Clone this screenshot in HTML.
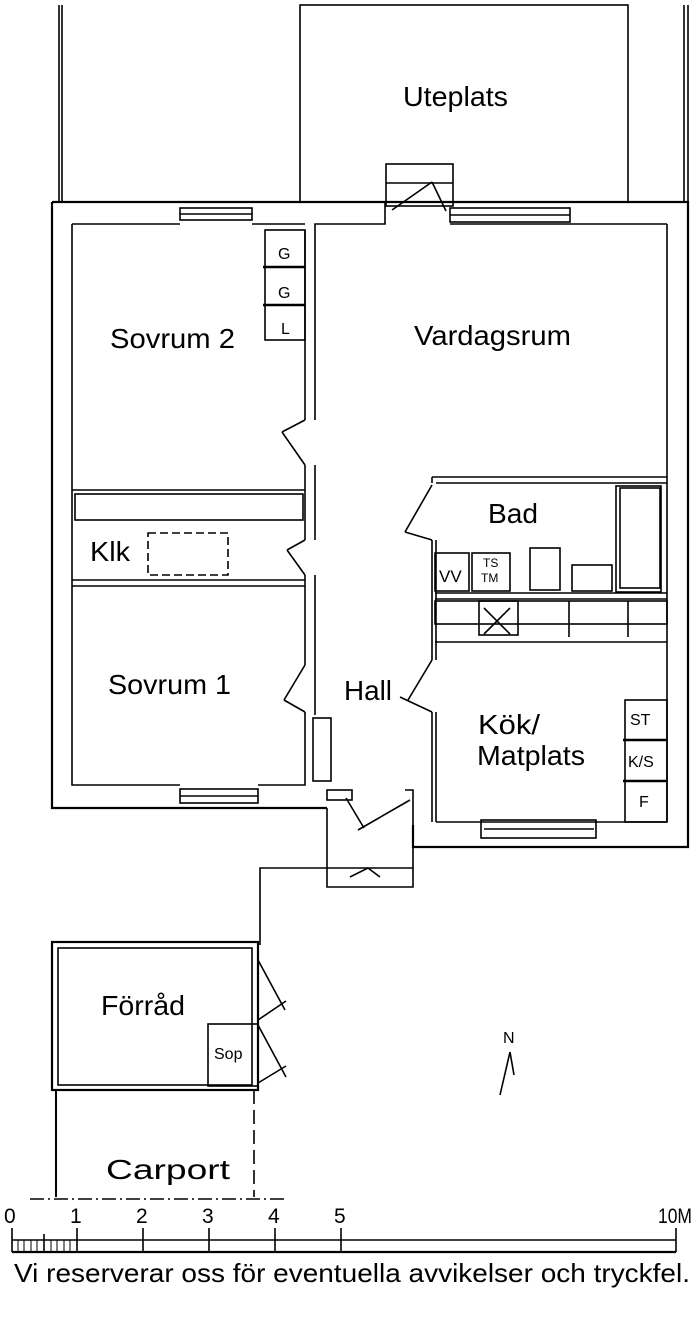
<!DOCTYPE html>
<html><head><meta charset="utf-8"><style>
html,body{margin:0;padding:0;background:#fff;}
svg{display:block;}
text{font-family:"Liberation Sans",sans-serif;fill:#000;}
</style></head><body>
<svg width="700" height="1319" viewBox="0 0 700 1319" xmlns="http://www.w3.org/2000/svg">
<g stroke="#000" fill="none" stroke-width="1.6">
<rect x="300" y="5" width="328" height="197"/>
<line x1="59" y1="5" x2="59" y2="202"/><line x1="62" y1="5" x2="62" y2="202"/>
<line x1="684" y1="5" x2="684" y2="202"/><line x1="688" y1="5" x2="688" y2="202"/>
<rect x="386" y="164" width="67" height="42"/><line x1="386" y1="183" x2="453" y2="183"/>
<line x1="392" y1="210" x2="432" y2="182"/><line x1="432" y1="182" x2="446" y2="211"/>
<polyline stroke-width="2.2" points="52,202 52,808 327,808"/>
<polyline stroke-width="2.2" points="52,202 688,202 688,847 413,847 413,825"/>
<polyline points="72,224 72,785 180,785"/>
<polyline points="258,785 305,785 305,712"/>
<line x1="72" y1="224" x2="180" y2="224"/>
<line x1="252" y1="224" x2="305" y2="224"/>
<polyline points="315,420 315,224 385,224 385,202"/>
<line x1="450" y1="224" x2="667" y2="224"/>
<line x1="667" y1="224" x2="667" y2="822"/>
<rect x="180" y="208" width="72" height="12"/><line x1="180" y1="214" x2="252" y2="214"/>
<rect x="450" y="208" width="120" height="14"/><line x1="450" y1="215" x2="570" y2="215"/>
<rect x="180" y="789" width="78" height="14"/><line x1="180" y1="796" x2="258" y2="796"/>
<rect x="481" y="820" width="115" height="18"/><line x1="484" y1="829" x2="594" y2="829"/>
<rect x="265" y="230" width="40" height="110"/>
<line x1="263" y1="267" x2="305" y2="267" stroke-width="2.5"/>
<line x1="263" y1="305" x2="305" y2="305" stroke-width="2.5"/>
<line x1="305" y1="230" x2="305" y2="420"/>
<line x1="305" y1="465" x2="305" y2="540"/><line x1="315" y1="465" x2="315" y2="540"/>
<line x1="305" y1="575" x2="305" y2="665"/><line x1="315" y1="575" x2="315" y2="665"/>
<line x1="72" y1="490" x2="305" y2="490"/><line x1="72" y1="580" x2="305" y2="580"/>
<line x1="72" y1="586" x2="305" y2="586"/>
<rect x="75" y="494" width="228" height="26"/>
<rect x="148" y="533" width="80" height="42" stroke-dasharray="8,4"/>
<line x1="305" y1="420" x2="282" y2="432"/><line x1="282" y1="432" x2="305" y2="465"/>
<line x1="305" y1="540" x2="287" y2="550"/><line x1="287" y1="550" x2="305" y2="575"/>
<line x1="305" y1="665" x2="284" y2="700"/><line x1="284" y1="700" x2="305" y2="712"/>
<line x1="315" y1="665" x2="315" y2="715"/>
<rect x="313" y="718" width="18" height="63"/>
<line x1="432" y1="477" x2="667" y2="477"/><line x1="436" y1="483" x2="667" y2="483"/>
<line x1="432" y1="477" x2="432" y2="483"/>
<line x1="432" y1="540" x2="432" y2="660"/><line x1="436" y1="540" x2="436" y2="660"/>
<line x1="432" y1="485" x2="405" y2="532"/><line x1="405" y1="532" x2="432" y2="540"/>
<rect x="616" y="486" width="45" height="106"/><rect x="620" y="488" width="40" height="100"/>
<rect x="435" y="553" width="34" height="38"/><rect x="472" y="553" width="38" height="38"/>
<rect x="530" y="548" width="30" height="42"/><rect x="572" y="565" width="40" height="26"/>
<line x1="435" y1="593" x2="667" y2="593"/><line x1="435" y1="599" x2="667" y2="599"/>
<rect x="435" y="601" width="232" height="23"/>
<line x1="435" y1="642" x2="667" y2="642"/>
<rect x="479" y="601" width="39" height="34"/>
<line x1="484" y1="608" x2="510" y2="634"/><line x1="510" y1="608" x2="484" y2="634"/>
<line x1="569" y1="601" x2="569" y2="637"/><line x1="628" y1="601" x2="628" y2="637"/>
<line x1="432" y1="660" x2="408" y2="700"/><line x1="400" y1="697" x2="432" y2="712"/>
<line x1="432" y1="712" x2="432" y2="822"/><line x1="436" y1="712" x2="436" y2="822"/>
<line x1="436" y1="822" x2="667" y2="822"/>
<rect x="625" y="700" width="42" height="122"/>
<line x1="623" y1="740" x2="667" y2="740" stroke-width="2.5"/>
<line x1="623" y1="781" x2="667" y2="781" stroke-width="2.5"/>
<polyline points="327,808 327,887 413,887 413,790 405,790"/>
<rect x="327" y="790" width="25" height="10"/>
<line x1="346" y1="798" x2="364" y2="828"/><line x1="358" y1="830" x2="410" y2="800"/>
<line x1="327" y1="868" x2="413" y2="868"/>
<line x1="350" y1="877" x2="368" y2="868"/><line x1="368" y1="868" x2="380" y2="877"/>
<polyline points="327,868 260,868 260,945"/>
<rect x="52" y="942" width="206" height="148" stroke-width="2.2"/>
<rect x="58" y="948" width="194" height="137"/>
<rect x="208" y="1024" width="50" height="62"/>
<line x1="258" y1="960" x2="285" y2="1010"/><line x1="258" y1="1020" x2="286" y2="1001"/>
<line x1="258" y1="1025" x2="286" y2="1077"/><line x1="258" y1="1083" x2="286" y2="1066"/>
<line x1="56" y1="1090" x2="56" y2="1197" stroke-width="2"/>
<line x1="254" y1="1090" x2="254" y2="1197" stroke-dasharray="14,6"/>
<line x1="30" y1="1199" x2="285" y2="1199" stroke-dasharray="14,4,2,4"/>
<line x1="510" y1="1052" x2="500" y2="1095"/><line x1="510" y1="1052" x2="514" y2="1075"/>
<line x1="12" y1="1252" x2="676" y2="1252" stroke-width="2.2"/>
<line x1="12" y1="1240" x2="676" y2="1240"/>
<line x1="12" y1="1228" x2="12" y2="1252"/><line x1="77" y1="1228" x2="77" y2="1252"/>
<line x1="143" y1="1228" x2="143" y2="1252"/><line x1="209" y1="1228" x2="209" y2="1252"/>
<line x1="275" y1="1228" x2="275" y2="1252"/><line x1="341" y1="1228" x2="341" y2="1252"/>
<line x1="676" y1="1228" x2="676" y2="1252"/>
<line x1="44" y1="1234" x2="44" y2="1252"/>
<g stroke-width="1"><line x1="18" y1="1240" x2="18" y2="1252"/><line x1="24" y1="1240" x2="24" y2="1252"/><line x1="31" y1="1240" x2="31" y2="1252"/><line x1="37" y1="1240" x2="37" y2="1252"/><line x1="51" y1="1240" x2="51" y2="1252"/><line x1="57" y1="1240" x2="57" y2="1252"/><line x1="64" y1="1240" x2="64" y2="1252"/><line x1="70" y1="1240" x2="70" y2="1252"/></g>
</g>
<g font-size="28">
<text x="403" y="106" textLength="105" lengthAdjust="spacingAndGlyphs">Uteplats</text>
<text x="110" y="348" textLength="125" lengthAdjust="spacingAndGlyphs">Sovrum 2</text>
<text x="414" y="345" textLength="157" lengthAdjust="spacingAndGlyphs">Vardagsrum</text>
<text x="488" y="523" textLength="50" lengthAdjust="spacingAndGlyphs">Bad</text>
<text x="90" y="561" textLength="40" lengthAdjust="spacingAndGlyphs">Klk</text>
<text x="108" y="694" textLength="123" lengthAdjust="spacingAndGlyphs">Sovrum 1</text>
<text x="344" y="700" textLength="48" lengthAdjust="spacingAndGlyphs">Hall</text>
<text x="478" y="734" textLength="62" lengthAdjust="spacingAndGlyphs">Kök/</text>
<text x="477" y="765" textLength="108" lengthAdjust="spacingAndGlyphs">Matplats</text>
<text x="101" y="1015" textLength="84" lengthAdjust="spacingAndGlyphs">Förråd</text>
<text x="106" y="1179" textLength="124" lengthAdjust="spacingAndGlyphs">Carport</text>
</g>
<g font-size="16">
<text x="278" y="259">G</text><text x="278" y="298">G</text><text x="281" y="334">L</text>
<text x="439" y="582" font-size="17">VV</text>
<text x="483" y="567" font-size="12">TS</text><text x="481" y="582" font-size="12">TM</text>
<text x="630" y="725">ST</text><text x="628" y="767">K/S</text><text x="639" y="807">F</text>
<text x="214" y="1059">Sop</text>
<text x="503" y="1043">N</text>
</g>
<g font-size="21" font-family="Liberation Mono">
<text x="4" y="1223">0</text><text x="70" y="1223">1</text><text x="136" y="1223">2</text>
<text x="202" y="1223">3</text><text x="268" y="1223">4</text><text x="334" y="1223">5</text>
<text x="658" y="1223" textLength="34" lengthAdjust="spacingAndGlyphs">10M</text>
</g>
<text x="14" y="1282" font-size="26" textLength="676" lengthAdjust="spacingAndGlyphs">Vi reserverar oss för eventuella avvikelser och tryckfel.</text>
</svg>
</body></html>
